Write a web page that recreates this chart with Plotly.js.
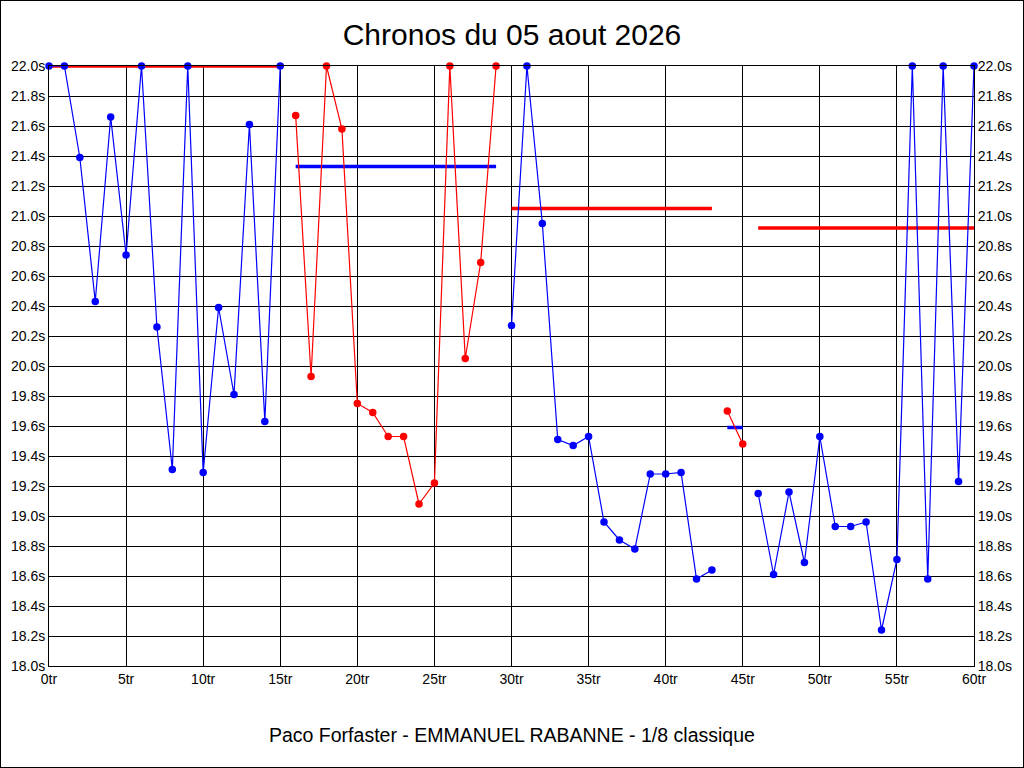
<!DOCTYPE html>
<html>
<head>
<meta charset="utf-8">
<script src="https://cdn.plot.ly/plotly-3.0.1.min.js"></script>
<style>
html,body{margin:0;padding:0;background:#fff;}
#frame{width:1024px;height:768px;box-sizing:border-box;border:1px solid #000;overflow:hidden;}
#chart{width:1022px;height:766px;}
</style>
</head>
<body>
<div id="frame"><div id="chart"></div></div>
<script>
// Chronos per tour, in series (segments alternate blue / red)
const tours1 = [0,1,2,3,4,5,6,7,8,9,10,11,12,13,14,15];
const chronos1 = [22.0,22.0,21.39,20.43,21.66,20.74,22.0,20.26,19.31,22.0,19.29,20.39,19.81,21.61,19.63,22.0];

const tours2 = [16,17,18,19,20,21,22,23,24,25,26,27,28,29];
const chronos2 = [21.67,19.93,22.0,21.58,19.75,19.69,19.53,19.53,19.08,19.22,22.0,20.05,20.69,22.0];

const tours3 = [30,31,32,33,34,35,36,37,38,39,40,41,42,43];
const chronos3 = [20.27,22.0,20.95,19.51,19.47,19.53,18.96,18.84,18.78,19.28,19.28,19.29,18.58,18.64];

const tours4 = [44,45];
const chronos4 = [19.70,19.48];

const tours5 = [46,47,48,49,50,51,52,53,54,55,56,57,58,59,60];
const chronos5 = [19.15,18.61,19.16,18.69,19.53,18.93,18.93,18.96,18.24,18.71,22.0,18.58,22.0,19.23,22.0];

// Series averages (horizontal bars)
const avgStart = [0,16,30,44,46];
const avgEnd = [15,29,43,45,60];
const avgValue = [22.0,21.33,21.05,19.59,20.92];

const title = "Chronos du 05 aout 2026";
const subtitle = "Paco Forfaster - EMMANUEL RABANNE - 1/8 classique";

const BLUE = "#0000ff", RED = "#ff0000";
const FONT = "Liberation Sans, Arial, sans-serif";

const series = [
  [tours1, chronos1, BLUE],
  [tours2, chronos2, RED],
  [tours3, chronos3, BLUE],
  [tours4, chronos4, RED],
  [tours5, chronos5, BLUE]
];
const avgColors = [RED, BLUE, RED, BLUE, RED];

const traces = [];
avgValue.forEach((v, i) => {
  traces.push({
    x: [avgStart[i], avgEnd[i]], y: [v, v],
    mode: "lines", type: "scatter",
    line: {color: avgColors[i], width: 3.5},
    hoverinfo: "skip", showlegend: false
  });
});
series.forEach((s, i) => {
  traces.push({
    x: s[0], y: s[1], mode: "lines+markers", type: "scatter",
    line: {color: s[2], width: 1.2},
    marker: {color: s[2], size: 7.5},
    cliponaxis: false, showlegend: false,
    yaxis: i === 4 ? "y2" : "y"
  });
});

const yCommon = {
  range: [18, 22], dtick: 0.2, tick0: 18, tickformat: ".1f", ticksuffix: "s",
  showgrid: true, gridcolor: "#000", gridwidth: 1,
  zeroline: false, showline: true, linecolor: "#000", linewidth: 1,
  ticks: "", tickfont: {family: FONT, size: 14, color: "#000"},
  fixedrange: true
};

const layout = {
  width: 1022, height: 766,
  margin: {l: 48, r: 49, t: 65, b: 101, pad: 0},
  paper_bgcolor: "#fff", plot_bgcolor: "#fff",
  showlegend: false,
  title: {text: title, font: {family: FONT, size: 30, color: "#000"},
          x: 0.5, xref: "container", y: 1 - 33/766, yref: "container", yanchor: "middle"},
  xaxis: {
    range: [0, 60], dtick: 5, tick0: 0, ticksuffix: "tr",
    showgrid: true, gridcolor: "#000", gridwidth: 1,
    zeroline: false, showline: true, linecolor: "#000", linewidth: 1, mirror: true,
    ticks: "", tickfont: {family: FONT, size: 14, color: "#000"},
    fixedrange: true
  },
  yaxis: Object.assign({}, yCommon, {side: "left"}),
  yaxis2: Object.assign({}, yCommon, {side: "right", overlaying: "y", anchor: "x", showgrid: false}),
  annotations: [{
    text: subtitle, xref: "paper", yref: "paper", x: 0.5, y: -69/600,
    xanchor: "center", yanchor: "middle", showarrow: false,
    font: {family: FONT, size: 19.5, color: "#000"}
  }]
};

Plotly.newPlot("chart", traces, layout, {staticPlot: true, displayModeBar: false});
</script>
</body>
</html>
